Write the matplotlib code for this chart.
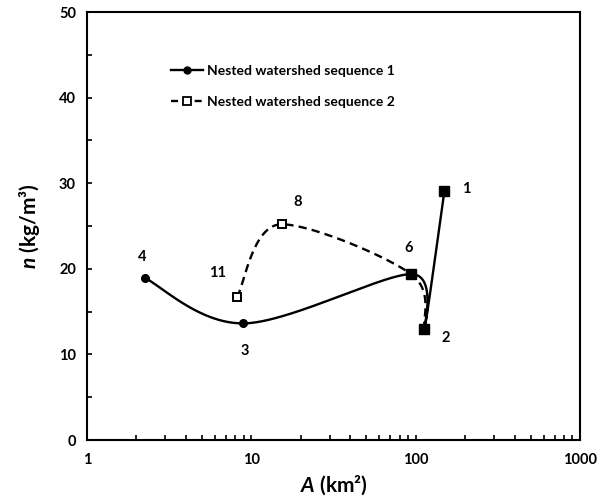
import numpy as np
import matplotlib
matplotlib.use("Agg")
import matplotlib.pyplot as plt
from matplotlib.ticker import FixedLocator, NullFormatter
from matplotlib.lines import Line2D

plt.rcParams['font.family'] = ['Lato', 'DejaVu Sans']
plt.rcParams['font.weight'] = 'bold'
plt.rcParams['mathtext.fontset'] = 'custom'
plt.rcParams['mathtext.it'] = 'Lato:italic:bold'
plt.rcParams['mathtext.rm'] = 'Lato:bold'

# Data
seq1_x = [2.24, 8.89, 93.8, 113.0, 149.6]
seq1_y = [18.95, 13.62, 19.38, 12.92, 29.1]
seq1_ids = ["4", "3", "6", "2", "1"]
seq2_x = [8.17, 15.3, 93.8, 113.0]
seq2_y = [16.65, 25.2, 19.38, 12.92]
seq2_ids = ["11", "8", "6", "2"]
shared_x = [93.8, 113.0, 149.6]
shared_y = [19.38, 12.92, 29.1]
label_ids = ["4", "3", "11", "8", "6", "1", "2"]
label_x = [2.24, 8.89, 8.17, 15.3, 93.8, 149.6, 113.0]
label_y = [18.95, 13.62, 16.65, 25.2, 19.38, 29.1, 12.92]
label_off = [(-2, 21), (2, -28), (-19, 24), (16, 22), (-2, 26), (22, 2), (21, -9)]
xticks = [1, 10, 100, 1000]
yticks = [0, 10, 20, 30, 40, 50]

fig = plt.figure(figsize=(6.11, 5.0), dpi=100)
ax = fig.add_axes([87/611, 60/500, (580-87)/611, (440-12)/500])
ax.set_xscale('log')
ax.set_xlim(1, 1000)
ax.set_ylim(0, 50)


def smooth(xs, ys, n=80):
    P = ax.transData.transform(np.column_stack([xs, ys]))
    m = len(P)
    T = np.zeros_like(P)
    H = np.zeros(m)
    F = np.ones(m)
    for i in range(m):
        if i == 0:
            d = P[1] - P[0]
        elif i == m - 1:
            d = P[-1] - P[-2]
        else:
            d = P[i + 1] - P[i - 1]
            uin = (P[i] - P[i - 1]) / np.linalg.norm(P[i] - P[i - 1])
            uout = (P[i + 1] - P[i]) / np.linalg.norm(P[i + 1] - P[i])
            F[i] = np.clip(1 + np.dot(uin, uout), 0, 1)
        H[i] = np.linalg.norm(d) / 6.0
        a = P[i - 1][1] - P[i][1] if 0 < i < m - 1 else 0
        b = P[i + 1][1] - P[i][1] if 0 < i < m - 1 else 0
        if a * b > 0:  # local extremum in y -> horizontal tangent
            d = np.array([np.sign(P[i + 1][0] - P[i - 1][0]) or 1.0, 0.0])
        T[i] = d / np.linalg.norm(d)
    pts = []
    t = np.linspace(0, 1, n)[:, None]
    for i in range(m - 1):
        L = np.linalg.norm(P[i + 1] - P[i])
        h1 = min(H[i], 0.5 * L) * F[i]
        h2 = min(H[i + 1], 0.5 * L) * F[i + 1]
        c1 = P[i] + T[i] * h1
        c2 = P[i + 1] - T[i + 1] * h2
        b = ((1 - t) ** 3) * P[i] + 3 * t * (1 - t) ** 2 * c1 + 3 * t ** 2 * (1 - t) * c2 + t ** 3 * P[i + 1]
        pts.append(b)
    pts = np.vstack(pts)
    out = ax.transData.inverted().transform(pts)
    return out[:, 0], out[:, 1]


sx2, sy2 = smooth(seq2_x, seq2_y)
ax.plot(sx2, sy2, color='black', lw=1.7, ls=(0, (3.5, 2.2)))
sx1, sy1 = smooth(seq1_x, seq1_y)
ax.plot(sx1, sy1, color='black', lw=1.7)

ax.plot(seq1_x[:2], seq1_y[:2], ls='none', marker='o', ms=5.5, color='black')
ax.plot(seq2_x[:2], seq2_y[:2], ls='none', marker='s', ms=6, mfc='white', mec='black', mew=1.4)
ax.plot(shared_x, shared_y, ls='none', marker='s', ms=7.5, color='black')

for lab, x, y, off in zip(label_ids, label_x, label_y, label_off):
    ax.annotate(lab, (x, y), xytext=off, textcoords='offset pixels',
                ha='center', va='center', fontsize=10.5, fontweight='bold')

h1 = Line2D([], [], color='black', lw=1.7, marker='o', ms=5)
h2 = Line2D([], [], color='black', lw=1.7, ls=(0, (3, 2)), marker='s', ms=6, mfc='white', mec='black', mew=1.3)
ax.legend([h1, h2], ['Nested watershed sequence 1', 'Nested watershed sequence 2'],
          loc='upper left', bbox_to_anchor=(0.145, 0.905), frameon=False,
          handlelength=2.3, handletextpad=0.3, labelspacing=1.35,
          prop={'weight': 'bold', 'size': 10})

ax.xaxis.set_major_locator(FixedLocator(xticks))
ax.set_xticklabels([str(v) for v in xticks])
ax.xaxis.set_minor_locator(FixedLocator([k * 10 ** e for e in range(3) for k in range(2, 10)]))
ax.xaxis.set_minor_formatter(NullFormatter())
ax.set_yticks(yticks)
ax.set_yticklabels([str(v) for v in yticks])
ax.yaxis.set_minor_locator(FixedLocator([5, 15, 25, 35, 45]))
ax.tick_params(which='both', direction='in', length=3.5, width=1.2, labelsize=10.5, pad=8)
ax.tick_params(axis='x', which='major', pad=9)
for s in ax.spines.values():
    s.set_linewidth(1.5)

ax.set_xlabel(r'$\mathit{A}$ (km²)', fontsize=15, fontweight='bold', labelpad=5)
ax.set_ylabel(r'$\mathit{n}$ (kg/m³)', fontsize=15, fontweight='bold', labelpad=12)

fig.savefig('out.png', dpi=100)
